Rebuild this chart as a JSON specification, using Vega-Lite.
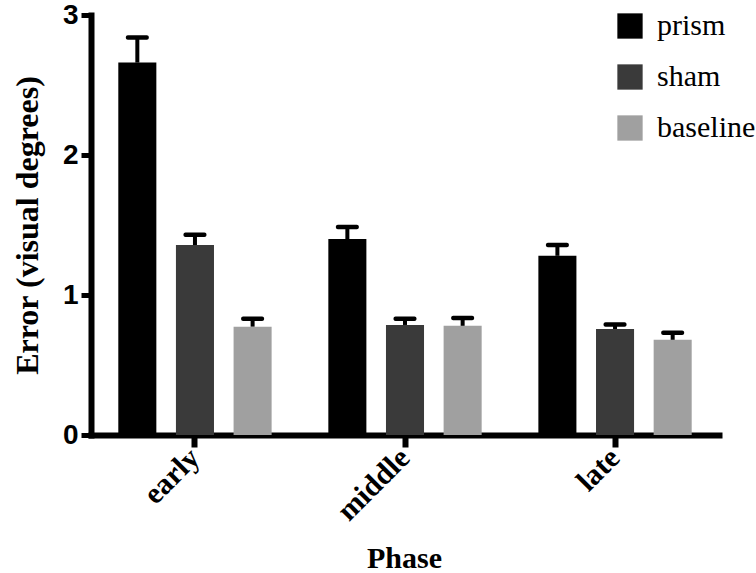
{
  "$schema": "https://vega.github.io/schema/vega-lite/v6.json",
  "width": 628,
  "height": 420,
  "autosize": "none",
  "padding": {"left": 91, "top": 15, "right": 37, "bottom": 138},
  "background": "white",
  "data": {
    "values": [
      {"phase": "early", "group": "prism", "value": 2.66, "err": 2.84},
      {"phase": "early", "group": "sham", "value": 1.357, "err": 1.43},
      {"phase": "early", "group": "baseline", "value": 0.774, "err": 0.83},
      {"phase": "middle", "group": "prism", "value": 1.40, "err": 1.486},
      {"phase": "middle", "group": "sham", "value": 0.786, "err": 0.83},
      {"phase": "middle", "group": "baseline", "value": 0.78, "err": 0.835},
      {"phase": "late", "group": "prism", "value": 1.28, "err": 1.357},
      {"phase": "late", "group": "sham", "value": 0.757, "err": 0.79},
      {"phase": "late", "group": "baseline", "value": 0.68, "err": 0.73}
    ]
  },
  "encoding": {
    "x": {
      "field": "phase", "type": "nominal", "sort": ["early", "middle", "late"],
      "scale": {"paddingInner": 0.27, "paddingOuter": 0.13},
      "axis": {
        "title": "Phase", "labelAngle": -45, "labelAlign": "right", "labelBaseline": "middle",
        "labelFont": "Liberation Serif", "labelFontWeight": "bold", "labelFontSize": 30, "labelColor": "black",
        "labelPadding": 6,
        "domainColor": "black", "domainWidth": 6, "domainCap": "square",
        "tickColor": "black", "tickWidth": 6, "tickSize": 12,
        "titleFont": "Liberation Serif", "titleFontWeight": "bold", "titleFontSize": 30, "titleColor": "black",
        "titleX": 313, "titleY": 132, "titleBaseline": "alphabetic", "titleAlign": "center"
      }
    },
    "xOffset": {"field": "group", "type": "nominal", "sort": ["prism", "sham", "baseline"],
      "scale": {"paddingInner": 0.34, "paddingOuter": 0}}
  },
  "layer": [
    {
      "mark": {"type": "bar"},
      "encoding": {
        "y": {
          "field": "value", "type": "quantitative",
          "scale": {"domain": [0, 3], "nice": false},
          "axis": {
            "title": "Error (visual degrees)", "values": [0, 1, 2, 3], "format": "d", "grid": false,
            "labelFont": "Liberation Sans", "labelFontWeight": "bold", "labelFontSize": 28, "labelColor": "black",
            "labelPadding": 3,
            "domainColor": "black", "domainWidth": 6, "domainCap": "square",
            "tickColor": "black", "tickWidth": 5, "tickSize": 10,
            "titleFont": "Liberation Serif", "titleFontWeight": "bold", "titleFontSize": 32, "titleColor": "#000000",
            "titleX": -64, "titleY": 210, "titleAngle": -90, "titleBaseline": "middle", "titleAlign": "center"
          }
        },
        "color": {
          "field": "group", "type": "nominal",
          "scale": {"domain": ["prism", "sham", "baseline"], "range": ["#000000", "#3a3a3a", "#a0a0a0"]},
          "legend": {
            "title": null, "orient": "none", "legendX": 524, "legendY": -4,
            "symbolType": "square", "symbolSize": 640, "symbolStrokeWidth": 0, "symbolOpacity": 1,
            "labelFont": "Liberation Serif", "labelFontSize": 30, "labelColor": "black",
            "labelOffset": 12, "rowPadding": 21, "padding": 0
          }
        }
      }
    },
    {
      "mark": {"type": "rule", "color": "black", "strokeWidth": 4},
      "encoding": {
        "y": {"field": "value", "type": "quantitative"},
        "y2": {"field": "err"}
      }
    },
    {
      "mark": {"type": "tick", "color": "black", "size": 23, "thickness": 4.5, "cornerRadius": 2, "opacity": 1},
      "encoding": {
        "y": {"field": "err", "type": "quantitative"}
      }
    }
  ],
  "config": {"view": {"stroke": null}}
}
